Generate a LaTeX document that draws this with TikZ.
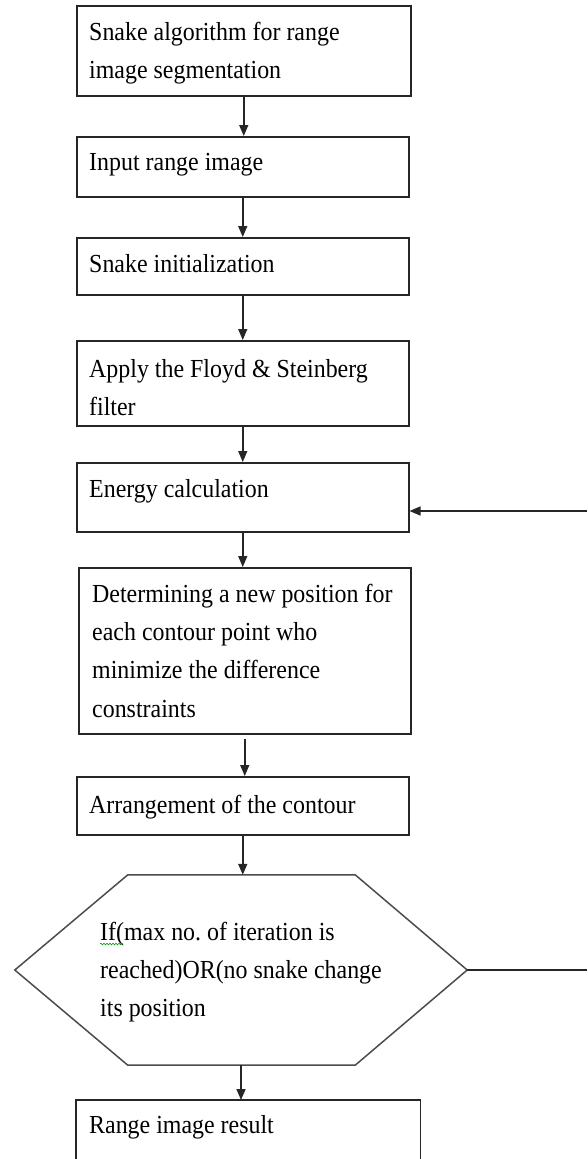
\documentclass[tikz,border=0pt]{standalone}
\usepackage{fontspec}
\setmainfont{Liberation Serif}[FakeStretch=0.92]
\usetikzlibrary{arrows.meta,decorations.pathmorphing}
\begin{document}
\begin{tikzpicture}[x=1pt,y=-1pt,
  box/.style={draw=black!85, line width=1.5pt, inner sep=0pt, minimum width=332pt, anchor=north west},
  txt/.style={anchor=north west, inner sep=0pt, align=left, font=\fontsize{26}{38.3}\selectfont, text=black},
  lineconn/.style={draw=black!85, line width=1.5pt},
  flow/.style={lineconn, -{Triangle[length=11pt,width=9pt]}},
]
\useasboundingbox (0,0) rectangle (587,1159);
% boxes
\node[box, minimum width=334pt, minimum height=90pt] (b1) at (76,5) {};
\node[box, minimum height=60pt] (b2) at (76,136) {};
\node[box, minimum height=57pt] (b3) at (76,237) {};
\node[box, minimum height=85pt] (b4) at (76,340) {};
\node[box, minimum height=69pt] (b5) at (76,462) {};
\node[box, minimum height=166pt] (b6) at (78,567) {};
\node[box, minimum height=58pt] (b7) at (76,776) {};
\node[draw=none, inner sep=0pt, minimum width=344pt, minimum height=60pt, anchor=north west] (b8) at (76,1100) {};
\draw[lineconn] (b8.south west) -- (b8.north west) -- (b8.north east) -- (b8.south east);
\node[draw=none, inner sep=0pt, minimum width=452pt, minimum height=190pt] (hex) at (241,970) {};
\draw[lineconn, draw=black!70] (hex.west) -- ([xshift=113pt]hex.north west) -- ([xshift=-112pt]hex.north east)
  -- (hex.east) -- ([xshift=-112pt]hex.south east) -- ([xshift=113pt]hex.south west) -- cycle;
% texts
\node[txt] (t1) at (89,13.2) {\strut Snake algorithm for range\\image segmentation};
\node[txt] (t2) at (89,143.2) {\strut Input range image};
\node[txt] (t3) at (89,245.2) {\strut Snake initialization};
\node[txt] (t4) at (89,350.2) {\strut Apply the Floyd \& Steinberg\\filter};
\node[txt] (t5) at (89,470.2) {\strut Energy calculation};
\node[txt] (t6) at (92,575.2) {\strut Determining a new position for\\each contour point who\\minimize the difference\\constraints};
\node[txt] (t7) at (89,786.2) {\strut Arrangement of the contour};
\node[txt] (t8) at (100,913.2) {\strut If(max no.\ of iteration is\\reached)OR(no snake change\\its position};
\node[txt] (t9) at (89,1106.2) {\strut Range image result};
\coordinate (w1) at (100,944);
\coordinate (w2) at (123,944);
\draw[green!60!black, line width=0.6pt, decorate, decoration={snake, amplitude=0.8pt, segment length=3pt}] (w1) -- (w2);
% connectors
\draw[flow] (b1.south) -- (b1.south |- b2.north);
\draw[flow] (b2.south) -- (b2.south |- b3.north);
\draw[flow] (b3.south) -- (b3.south |- b4.north);
\draw[flow] (b4.south) -- (b4.south |- b5.north);
\draw[flow] (b5.south) -- (b5.south |- b6.north);
\draw[flow, shorten <=4pt] (b6.south) -- (b6.south |- b7.north);
\draw[flow] (b7.south) -- (b7.south |- hex.north);
\draw[flow] (hex.south) -- (hex.south |- b8.north);
\coordinate (r1) at (587,970);
\coordinate (r2) at (587,511);
\draw[lineconn] (hex.east) -- (r1);
\draw[flow] (r2) -- (b5.east |- r2);
\end{tikzpicture}
\end{document}
